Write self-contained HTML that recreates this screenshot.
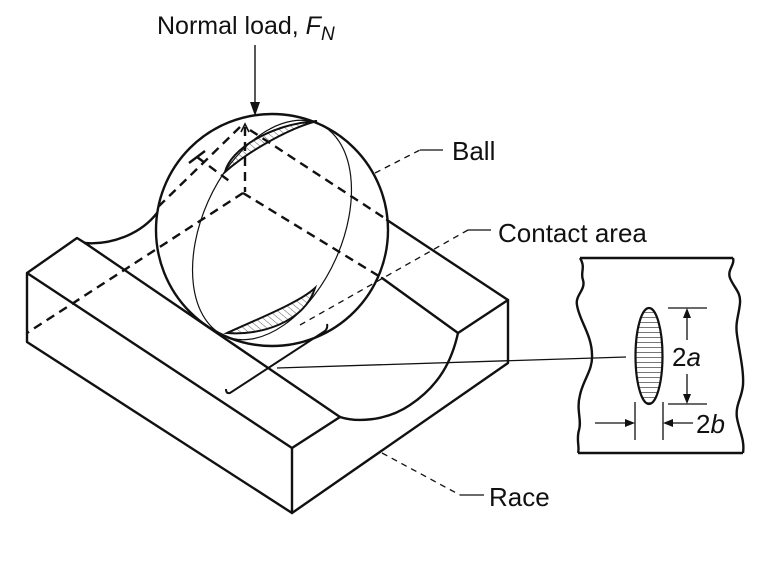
<!DOCTYPE html>
<html><head><meta charset="utf-8"><style>
html,body{margin:0;padding:0;background:#fff;}
svg{display:block;}
text{font-family:"Liberation Sans",Arial,sans-serif;fill:#111;}
</style></head><body>
<svg width="768" height="580" viewBox="0 0 768 580" xmlns="http://www.w3.org/2000/svg">
<defs>
<pattern id="hd" width="5" height="5" patternUnits="userSpaceOnUse" patternTransform="rotate(-50)">
<line x1="0" y1="0" x2="0" y2="5" stroke="#333" stroke-width="0.8"/></pattern>
<pattern id="hh" width="6" height="5" patternUnits="userSpaceOnUse">
<line x1="0" y1="2.5" x2="6" y2="2.5" stroke="#555" stroke-width="0.8"/></pattern>
</defs>
<g fill="none" stroke="#111" stroke-width="2.4" stroke-linejoin="round" stroke-linecap="round">
<path d="M27,273 L27,342 L292,513 L292,448 L27,273 L77,238 L85,243"/>
<path d="M85,243 C110,245 140,235 157,213"/>
<line x1="85" y1="243" x2="340" y2="417"/>
<line x1="292" y1="448" x2="340" y2="417"/>
<path d="M340,417 C355,422 385,422 410,405 C440,385 452,360 458,333"/>
<path d="M458,333 L508,300 L508,363 L292,513"/>
<line x1="387" y1="220" x2="508" y2="300"/>
<line x1="382" y1="278" x2="458" y2="333"/>
<circle cx="272" cy="230" r="116"/>
</g>
<ellipse cx="272" cy="230" rx="116" ry="70" transform="rotate(114 272 230)" fill="none" stroke="#111" stroke-width="1.2"/>
<path d="M225,172 C230,150 270,124 317,121 C290,128 250,150 225,172 Z" fill="url(#hd)" stroke="#111" stroke-width="2"/>
<path d="M227,333 C260,336 305,322 315,288 C300,302 260,318 227,333 Z" fill="url(#hd)" stroke="#111" stroke-width="2"/>
<g stroke="#111" stroke-width="2.4" stroke-dasharray="9,6" fill="none">
<line x1="243" y1="193" x2="27" y2="333"/>
<line x1="243" y1="193" x2="382" y2="278"/>
<line x1="245" y1="127" x2="245" y2="192"/>
<line x1="240" y1="127" x2="158" y2="207"/>
<line x1="250" y1="130" x2="386" y2="219"/>
<line x1="197" y1="157" x2="232" y2="183"/>
</g>
<path d="M241,132 L245,124 L249,132" fill="none" stroke="#111" stroke-width="1.6"/>
<line x1="189" y1="163" x2="205" y2="151" stroke="#111" stroke-width="2.4"/>
<path d="M226,389 Q226,394 230,393 L325,331 Q328,328 327,324" fill="none" stroke="#111" stroke-width="2"/>
<line x1="255" y1="45" x2="255" y2="104" stroke="#111" stroke-width="1.4"/>
<path d="M250,102 L260,102 L255,116 Z" fill="#111"/>
<text x="157" y="34" font-size="25">Normal load, <tspan font-style="italic">F</tspan><tspan font-style="italic" font-size="19" dy="6">N</tspan></text>
<g stroke="#111" stroke-width="1.3" fill="none">
<path d="M375,173 L420,150" stroke-dasharray="6,5"/>
<line x1="420" y1="150" x2="443" y2="150"/>
<path d="M300,325 L468,230" stroke-dasharray="6,5"/>
<line x1="468" y1="230" x2="491" y2="230"/>
<path d="M382,453 L460,495" stroke-dasharray="6,5"/>
<line x1="460" y1="495" x2="484" y2="495"/>
<line x1="277" y1="368" x2="626" y2="357"/>
</g>
<text x="452" y="160" font-size="26">Ball</text>
<text x="498" y="242" font-size="26">Contact area</text>
<text x="489" y="506" font-size="26">Race</text>
<g fill="none" stroke="#111" stroke-width="2.4">
<line x1="580" y1="258" x2="733" y2="258"/>
<line x1="578" y1="453" x2="743" y2="453"/>
<path d="M580,258 C586,268 580,272 583,280 C586,290 575,295 577,305 C579,320 592,335 592,355 C593,370 583,380 580,395 C576,410 582,420 579,430 C576,440 580,448 578,453"/>
<path d="M733,258 C735,265 727,270 730,278 C734,288 741,292 740,303 C739,315 735,322 737,335 C739,350 744,370 743,385 C742,398 735,405 737,418 C739,430 745,440 743,453"/>
</g>
<ellipse cx="649" cy="356" rx="13.5" ry="48" fill="url(#hh)" stroke="#111" stroke-width="2.2"/>
<g stroke="#111" stroke-width="1.3" fill="none">
<line x1="668" y1="308" x2="707" y2="308"/>
<line x1="668" y1="404" x2="707" y2="404"/>
<line x1="687" y1="316" x2="687" y2="340"/>
<line x1="687" y1="374" x2="687" y2="396"/>
<line x1="635" y1="402" x2="635" y2="440"/>
<line x1="663" y1="402" x2="663" y2="440"/>
<line x1="595" y1="423" x2="627" y2="423"/>
<line x1="671" y1="423" x2="693" y2="423"/>
</g>
<g fill="#111">
<path d="M683,318 L691,318 L687,308 Z"/>
<path d="M683,394 L691,394 L687,404 Z"/>
<path d="M625,419 L625,427 L635,423 Z"/>
<path d="M673,419 L673,427 L663,423 Z"/>
</g>
<text x="672" y="366" font-size="26">2<tspan font-style="italic">a</tspan></text>
<text x="696" y="433" font-size="26">2<tspan font-style="italic">b</tspan></text>
</svg>
</body></html>
